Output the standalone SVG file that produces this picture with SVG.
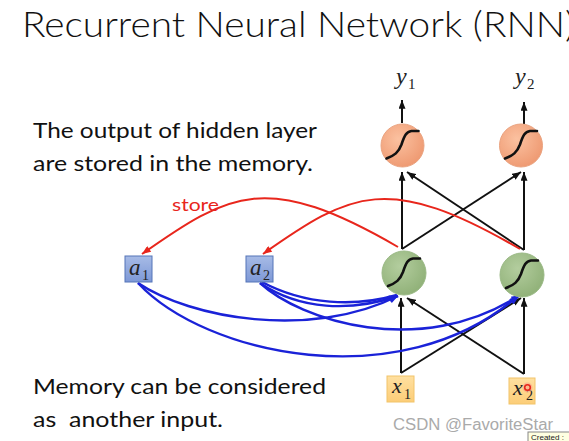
<svg xmlns="http://www.w3.org/2000/svg" width="569" height="441" viewBox="0 0 569 441">
<style>
.t{font-family:Lato,"Open Sans","Liberation Sans",sans-serif;fill:#111;white-space:pre}
.m{font-family:"Liberation Serif","DejaVu Serif",serif;font-style:italic;fill:#222}
.s{font-family:"Liberation Serif","DejaVu Serif",serif;fill:#222}
.blk{stroke:#111;stroke-width:2;fill:none}
.red{stroke:#e8261c;stroke-width:2;fill:none}
.blu{stroke:#1a22d8;stroke-width:2.4;fill:none}
.sig{stroke:#111;stroke-width:2.6;fill:none;stroke-linecap:round}
</style>
<defs>
<radialGradient id="og" cx="0.4" cy="0.35" r="0.7">
<stop offset="0" stop-color="#fbc1a0"/><stop offset="1" stop-color="#ee9870"/>
</radialGradient>
<radialGradient id="gg" cx="0.4" cy="0.35" r="0.7">
<stop offset="0" stop-color="#b3cd9e"/><stop offset="1" stop-color="#8fb077"/>
</radialGradient>
<linearGradient id="bg" x1="0" y1="0" x2="0" y2="1">
<stop offset="0" stop-color="#a7bbe6"/><stop offset="1" stop-color="#7d98d6"/>
</linearGradient>
<linearGradient id="yg" x1="0" y1="0" x2="0" y2="1">
<stop offset="0" stop-color="#ffe0a0"/><stop offset="1" stop-color="#fccd78"/>
</linearGradient>
<marker id="ak" viewBox="0 0 10 8" refX="10" refY="4" markerWidth="9" markerHeight="7" orient="auto" markerUnits="userSpaceOnUse"><path d="M0,0 L10,4 L0,8 z" fill="#111"/></marker>
<marker id="ar" viewBox="0 0 10 8" refX="10" refY="4" markerWidth="10" markerHeight="7" orient="auto" markerUnits="userSpaceOnUse"><path d="M0,0 L10,4 L0,8 z" fill="#e8261c"/></marker>
<marker id="ab" viewBox="0 0 10 8" refX="10" refY="4" markerWidth="10" markerHeight="7" orient="auto" markerUnits="userSpaceOnUse"><path d="M0,0 L10,4 L0,8 z" fill="#1a22d8"/></marker>
<path id="sg" d="M-16,13 C-8,10 -4,7 -1,-1 C2,-10 4,-14 9,-14.5 L16,-14.5"/>
</defs>
<rect width="569" height="441" fill="#fff"/>

<text class="t" x="22" y="37" font-size="35" font-weight="300" textLength="553" lengthAdjust="spacingAndGlyphs">Recurrent Neural Network (RNN)</text>
<text class="t" x="33" y="138" font-size="22" textLength="284" lengthAdjust="spacingAndGlyphs">The output of hidden layer</text>
<text class="t" x="33" y="171" font-size="22" textLength="280" lengthAdjust="spacingAndGlyphs">are stored in the memory.</text>
<text class="t" x="33" y="394" font-size="22" textLength="293" lengthAdjust="spacingAndGlyphs">Memory can be considered</text>
<text class="t" x="33" y="427" font-size="22" textLength="190" lengthAdjust="spacingAndGlyphs" xml:space="preserve">as  another input.</text>
<text class="t" x="172" y="211" font-size="18" style="fill:#e8261c" textLength="47" lengthAdjust="spacingAndGlyphs">store</text>

<g id="connectors">
<path class="blk" d="M402,123 L402,100" marker-end="url(#ak)"/>
<path class="blk" d="M524,124 L524,102" marker-end="url(#ak)"/>
<path class="blk" d="M402,249 L402,172" marker-end="url(#ak)"/>
<path class="blk" d="M402,249 L521,172" marker-end="url(#ak)"/>
<path class="blk" d="M524,250 L524,172" marker-end="url(#ak)"/>
<path class="blk" d="M524,250 L407,172" marker-end="url(#ak)"/>
<path class="blk" d="M401,373 L401,298" marker-end="url(#ak)"/>
<path class="blk" d="M401,373 L521,298" marker-end="url(#ak)"/>
<path class="blk" d="M524,374 L524,298" marker-end="url(#ak)"/>
<path class="blk" d="M524,374 L407,298" marker-end="url(#ak)"/>
<path class="red" d="M398,247 C267,171 230,192 142,254" marker-end="url(#ar)"/>
<path class="red" d="M520,249 C388,172 351,192 263,254" marker-end="url(#ar)"/>
<path class="blu" d="M138,283 C190,318 310,340 398,296" marker-end="url(#ab)"/>
<path class="blu" d="M138,283 C205,355 400,398 518,296" marker-end="url(#ab)"/>
<path class="blu" d="M260,283 C300,310 350,312 398,296" marker-end="url(#ab)"/>
<path class="blu" d="M262,282 C305,305 355,307 397,295"/>
<path class="blu" d="M260,283 C300,320 420,360 520,295" marker-end="url(#ab)"/>
</g>

<g id="y1"><text class="m" x="396" y="84" font-size="24">y</text><text class="s" x="408" y="89" font-size="15">1</text></g>
<g id="y2"><text class="m" x="515" y="84" font-size="24">y</text><text class="s" x="527" y="89" font-size="15">2</text></g>

<g id="o1"><circle cx="402.5" cy="145.5" r="21.5" fill="url(#og)" stroke="#eaa380" stroke-width="1"/><use href="#sg" x="402.5" y="145.5" class="sig"/></g>
<g id="o2"><circle cx="521" cy="145.5" r="21.5" fill="url(#og)" stroke="#eaa380" stroke-width="1"/><use href="#sg" x="521" y="145.5" class="sig"/></g>
<g id="h1"><circle cx="404" cy="273" r="22" fill="url(#gg)" stroke="#9ab985" stroke-width="1"/><use href="#sg" x="404" y="273" class="sig"/></g>
<g id="h2"><circle cx="522" cy="275" r="22" fill="url(#gg)" stroke="#9ab985" stroke-width="1"/><use href="#sg" x="522" y="275" class="sig"/></g>

<g id="a1"><rect x="125" y="256" width="27" height="26" fill="url(#bg)" stroke="#5574b8" stroke-width="1"/><text class="m" x="129" y="275" font-size="23">a</text><text class="s" x="142" y="280" font-size="14">1</text></g>
<g id="a2"><rect x="246" y="256" width="27" height="26" fill="url(#bg)" stroke="#5574b8" stroke-width="1"/><text class="m" x="250" y="275" font-size="23">a</text><text class="s" x="263" y="280" font-size="14">2</text></g>

<g id="x1"><rect x="387" y="376" width="27" height="26" fill="url(#yg)" stroke="#f2c46a" stroke-width="1"/><text class="m" x="392" y="393" font-size="22">x</text><text class="s" x="404" y="399" font-size="14">1</text></g>
<g id="x2"><rect x="509" y="378" width="26" height="26" fill="url(#yg)" stroke="#f2c46a" stroke-width="1"/><text class="m" x="513" y="395" font-size="22">x</text><text class="s" x="526" y="400" font-size="14">2</text><circle cx="527.5" cy="387.5" r="5" fill="#f59a8a" opacity="0.5"/><circle cx="527.5" cy="387.5" r="2.8" fill="none" stroke="#e8261c" stroke-width="1.6"/></g>

<text x="393" y="430" font-family="'Liberation Sans',Arial,sans-serif" font-size="16" fill="#aaaaaa" textLength="160" lengthAdjust="spacingAndGlyphs">CSDN @FavoriteStar</text>
<rect x="528" y="432" width="50" height="14" fill="#ffffe1" stroke="#888" stroke-width="1"/>
<text x="531" y="440" font-family="'Liberation Sans',Arial,sans-serif" font-size="8" fill="#222">Created :</text>
</svg>
